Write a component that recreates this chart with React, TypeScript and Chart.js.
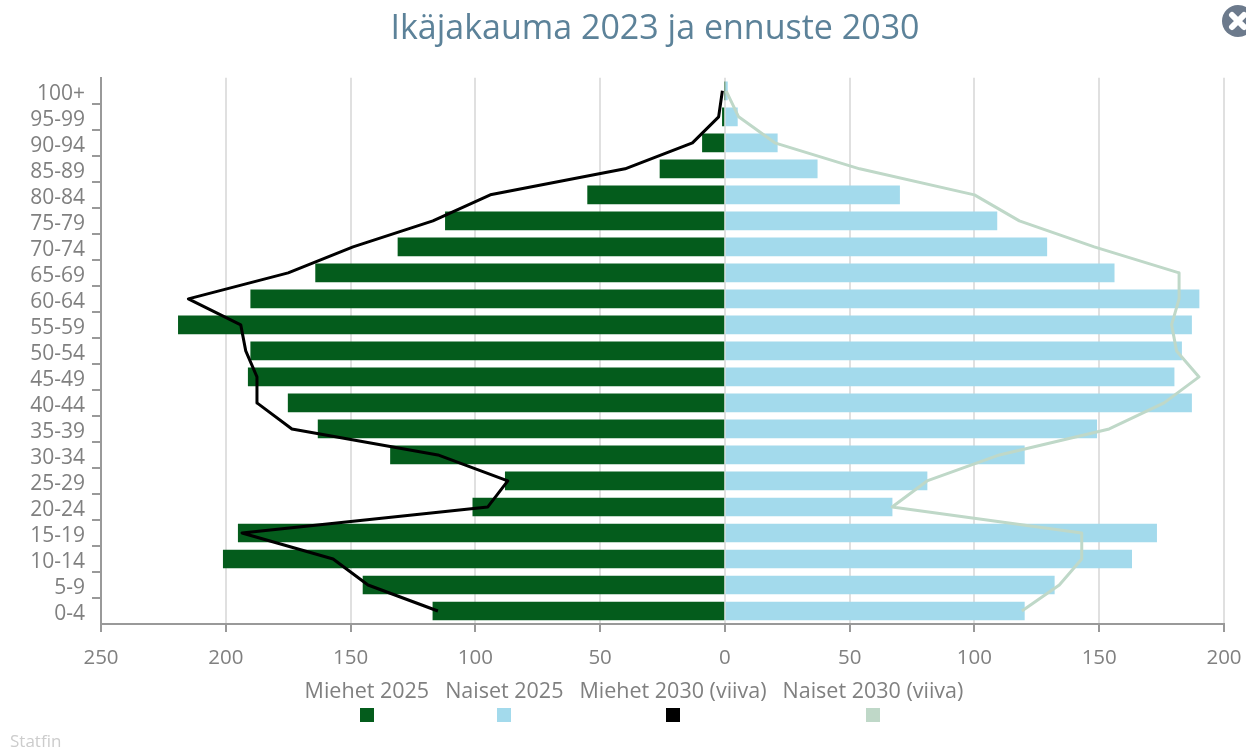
import React, { useEffect, useRef } from "react";
import { Chart, registerables } from "chart.js";

Chart.register(...registerables);

const ageGroups = ["100+","95-99","90-94","85-89","80-84","75-79","70-74","65-69","60-64","55-59","50-54","45-49","40-44","35-39","30-34","25-29","20-24","15-19","10-14","5-9","0-4"];
const men2025 = [0,1,9,26,55,112,131,164,190,219,190,191,175,163,134,88,101,195,201,145,117];
const women2025 = [1,5,21,37,70,109,129,156,190,187,183,180,187,149,120,81,67,173,163,132,120];
const men2030 = [1,2.5,13,40,94,117,149,175,215,194,192,187.5,187.5,173.5,115,87,95,193.5,157,143,115];
const women2030 = [0.5,5.5,20,54,100,118,148,182,182,179,181,190,176,154,110,81,67,143,143,134,119];
const seriesMeta = [
  { label: "Miehet 2025", color: "#045c1c" },
  { label: "Naiset 2025", color: "#a3daec" },
  { label: "Miehet 2030 (viiva)", color: "#000000" },
  { label: "Naiset 2030 (viiva)", color: "#bfd8c8" },
];

const nudge = {
  id: "nudge",
  beforeDraw(chart: any) {
    if (chart.__nudged) return;
    chart.__nudged = true;
    chart.scales.y.getLabelItems().forEach((it: any) => {
      it.options.translation = [it.options.translation[0], it.options.translation[1] + 3];
    });
    chart.titleBlock.left -= 7.5;
    chart.titleBlock.right -= 7.5;
  },
};

export default function App() {
  const ref = useRef<HTMLCanvasElement>(null);
  useEffect(() => {
    document.body.style.margin = "0";
    const chart = new Chart(ref.current!, {
      type: "bar",
      plugins: [nudge],
      data: {
        labels: ageGroups,
        datasets: [
          { type: "line", label: seriesMeta[2].label, data: men2030.map((v) => -v), borderColor: seriesMeta[2].color, backgroundColor: seriesMeta[2].color, borderWidth: 3, borderJoinStyle: "round", pointRadius: 0, tension: 0, order: 1 },
          { type: "line", label: seriesMeta[3].label, data: women2030, borderColor: seriesMeta[3].color, backgroundColor: seriesMeta[3].color, borderWidth: 3, borderJoinStyle: "round", pointRadius: 0, tension: 0, order: 2 },
          { type: "bar", label: seriesMeta[0].label, data: men2025.map((v) => -v), backgroundColor: seriesMeta[0].color, barThickness: 18, grouped: false, order: 3 },
          { type: "bar", label: seriesMeta[1].label, data: women2025, backgroundColor: seriesMeta[1].color, barThickness: 18, grouped: false, order: 4 },
        ],
      } as any,
      options: {
        indexAxis: "y",
        animation: false,
        responsive: false,
        layout: { padding: { top: 0, right: 28, bottom: 0, left: 0 } },
        plugins: {
          legend: { display: false },
          tooltip: { enabled: false },
          title: {
            display: true,
            fullSize: false,
            text: "Ikäjakauma 2023 ja ennuste 2030",
            color: "#5c8299",
            font: { family: "'Open Sans'", size: 34, weight: "normal" },
            padding: { top: 9, bottom: 28 },
          },
        },
        scales: {
          x: {
            type: "linear",
            min: -250,
            max: 200,
            ticks: { stepSize: 50, color: "#808080", font: { family: "'Open Sans'", size: 20.5 }, padding: 14, maxRotation: 0, callback: (v: any) => String(Math.abs(Number(v))) },
            grid: { color: "#e0e0e0", lineWidth: 2, tickColor: "#999999", tickLength: 8 },
            border: { color: "#999999", width: 2 },
            afterFit: (s: any) => { s.height = 125; s.paddingLeft = 0; s.paddingRight = 0; },
          },
          y: {
            type: "category",
            ticks: { color: "#808080", font: { family: "'Open Sans'", size: 21 }, padding: 7, autoSkip: false },
            grid: {
              offset: true,
              drawOnChartArea: false,
              tickLength: 9,
              lineWidth: 2,
              tickColor: (c: any) => (c.index > 0 && c.index < ageGroups.length ? "#999999" : "transparent"),
            },
            border: { color: "#999999", width: 2 },
            afterFit: (s: any) => { s.width = 101; },
          },
        },
      } as any,
    });
    return () => chart.destroy();
  }, []);

  return (
    <div style={{ position: "relative", width: 1252, height: 749, overflow: "hidden", background: "#fff" }}>
      <canvas ref={ref} width={1252} height={749} style={{ display: "block", position: "absolute", left: 0, top: 0 }} />
      <div style={{ position: "absolute", left: 0, width: 1268, top: 677, display: "flex", justifyContent: "center", gap: 16, font: "21.5px 'Open Sans'", color: "#808080", lineHeight: "26px" }}>
        {seriesMeta.map((s) => (
          <div key={s.label} style={{ display: "flex", flexDirection: "column", alignItems: "center" }}>
            <span style={{ whiteSpace: "nowrap" }}>{s.label}</span>
            <span style={{ width: 14, height: 14, background: s.color, marginTop: 5, display: "block" }} />
          </div>
        ))}
      </div>
      <div style={{ position: "absolute", left: 10, top: 729, font: "17px 'Open Sans'", color: "#cccccc" }}>Statfin</div>
      <svg style={{ position: "absolute", left: 1222, top: 4 }} width={24} height={34} viewBox="0 0 24 34">
        <circle cx={16} cy={17} r={16} fill="#6c7a8c" />
        <path d="M10 11 L22 23 M22 11 L10 23" stroke="#fff" strokeWidth={6} strokeLinecap="round" />
      </svg>
    </div>
  );
}
